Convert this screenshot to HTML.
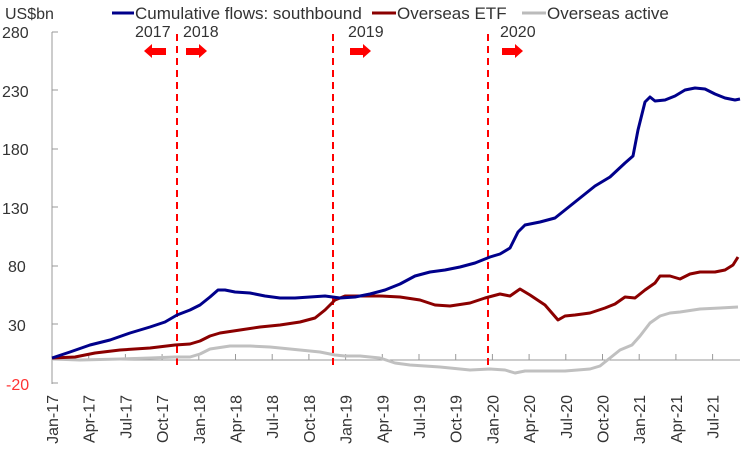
<!DOCTYPE html>
<html><head><meta charset="utf-8"><style>
body{margin:0;background:#fff;width:750px;height:458px;overflow:hidden}
svg text{font-family:"Liberation Sans",sans-serif;fill:#333}
</style></head><body>
<svg width="750" height="458" viewBox="0 0 750 458">
<g font-size="16">
<text x="5" y="19" font-size="16">US$bn</text>
<text x="2" y="38">280</text><text x="2" y="97">230</text><text x="2" y="155">180</text>
<text x="2" y="214">130</text><text x="8" y="272">80</text><text x="8" y="331">30</text>
<text x="6" y="390" style="fill:#f33">-20</text>
</g>
<g stroke="#999" stroke-width="1" fill="none">
<line x1="52" y1="32" x2="52" y2="384"/>
<line x1="52" y1="32" x2="58" y2="32"/><line x1="52" y1="90" x2="58" y2="90"/><line x1="52" y1="149" x2="58" y2="149"/>
<line x1="52" y1="207" x2="58" y2="207"/><line x1="52" y1="266" x2="58" y2="266"/><line x1="52" y1="324" x2="58" y2="324"/><line x1="52" y1="383" x2="58" y2="383"/>
<line x1="52" y1="360" x2="740" y2="360"/>
<line x1="88.7" y1="360" x2="88.7" y2="354"/><line x1="125.4" y1="360" x2="125.4" y2="354"/><line x1="162.1" y1="360" x2="162.1" y2="354"/>
<line x1="198.8" y1="360" x2="198.8" y2="354"/><line x1="235.5" y1="360" x2="235.5" y2="354"/><line x1="272.2" y1="360" x2="272.2" y2="354"/>
<line x1="308.9" y1="360" x2="308.9" y2="354"/><line x1="345.6" y1="360" x2="345.6" y2="354"/><line x1="382.3" y1="360" x2="382.3" y2="354"/>
<line x1="419" y1="360" x2="419" y2="354"/><line x1="455.7" y1="360" x2="455.7" y2="354"/><line x1="492.4" y1="360" x2="492.4" y2="354"/>
<line x1="529.1" y1="360" x2="529.1" y2="354"/><line x1="565.8" y1="360" x2="565.8" y2="354"/><line x1="602.5" y1="360" x2="602.5" y2="354"/>
<line x1="639.2" y1="360" x2="639.2" y2="354"/><line x1="675.9" y1="360" x2="675.9" y2="354"/><line x1="712.6" y1="360" x2="712.6" y2="354"/>
</g>
<g stroke="#f00" stroke-width="2" stroke-dasharray="7,5">
<line x1="177" y1="34" x2="177" y2="368"/><line x1="333" y1="34" x2="333" y2="368"/><line x1="488" y1="34" x2="488" y2="368"/>
</g>
<g font-size="16">
<text x="135" y="37">2017</text><text x="183" y="37">2018</text><text x="348" y="37">2019</text><text x="500" y="37">2020</text>
</g>
<g fill="#f00">
<polygon points="144,51 152,44 152,48 166,48 166,55 152,55 152,58"/>
<polygon points="207,51 199,44 199,48 186,48 186,55 199,55 199,58"/>
<polygon points="371,51 363,44 363,48 350,48 350,55 363,55 363,58"/>
<polygon points="523,51 515,44 515,48 502,48 502,55 515,55 515,58"/>
</g>
<g font-size="17">
<line x1="112" y1="13" x2="134" y2="13" stroke="#00008b" stroke-width="3"/><text x="135" y="19">Cumulative flows: southbound</text>
<line x1="372" y1="13" x2="396" y2="13" stroke="#8b0000" stroke-width="3"/><text x="397" y="19">Overseas ETF</text>
<line x1="522" y1="13" x2="546" y2="13" stroke="#bbb" stroke-width="3"/><text x="547" y="19">Overseas active</text>
</g>
<g fill="none" stroke-width="3" stroke-linejoin="round">
<polyline stroke="#c0c0c0" points="52,359 80,360 120,359 150,358 175,357 190,357 200,354 210,349 230,346 250,346 270,347 300,350 320,352 335,355 345,356 360,356 380,358 395,363 410,365 440,367 470,370 490,369 505,370 515,373 525,371 545,371 565,371 590,369 600,366 610,358 620,350 632,345 640,336 650,323 660,316 670,313 680,312 700,309 720,308 738,307"/>
<polyline stroke="#8b0000" points="52,358 75,357 95,353 120,350 150,348 175,345 190,344 200,341 210,336 220,333 240,330 260,327 280,325 300,322 315,318 325,310 335,300 345,296 360,296 380,296 400,297 420,300 435,305 450,306 470,303 485,298 500,294 510,296 520,289 530,295 545,305 558,320 565,316 575,315 590,313 605,308 615,304 625,297 635,298 645,290 655,283 660,276 670,276 680,279 690,274 700,272 715,272 725,270 733,265 738,257"/>
<polyline stroke="#00008b" points="52,358 70,352 90,345 110,340 130,333 150,327 165,322 177,315 190,310 200,305 210,297 218,290 225,290 235,292 250,293 265,296 280,298 295,298 310,297 325,296 340,298 355,297 370,294 385,290 400,284 415,276 430,272 445,270 460,267 475,263 490,257 500,254 510,248 518,232 525,225 540,222 555,218 565,210 580,198 595,186 610,177 625,163 633,156 638,130 645,102 650,97 655,101 665,100 675,96 685,90 695,88 705,89 715,94 725,98 735,100 740,99"/>
</g>
<g font-size="16" text-anchor="end">
<text transform="translate(58,395) rotate(-90)">Jan-17</text>
<text transform="translate(94.7,395) rotate(-90)">Apr-17</text>
<text transform="translate(131.4,395) rotate(-90)">Jul-17</text>
<text transform="translate(168.1,395) rotate(-90)">Oct-17</text>
<text transform="translate(204.8,395) rotate(-90)">Jan-18</text>
<text transform="translate(241.5,395) rotate(-90)">Apr-18</text>
<text transform="translate(278.2,395) rotate(-90)">Jul-18</text>
<text transform="translate(314.9,395) rotate(-90)">Oct-18</text>
<text transform="translate(351.6,395) rotate(-90)">Jan-19</text>
<text transform="translate(388.3,395) rotate(-90)">Apr-19</text>
<text transform="translate(425,395) rotate(-90)">Jul-19</text>
<text transform="translate(461.7,395) rotate(-90)">Oct-19</text>
<text transform="translate(498.4,395) rotate(-90)">Jan-20</text>
<text transform="translate(535.1,395) rotate(-90)">Apr-20</text>
<text transform="translate(571.8,395) rotate(-90)">Jul-20</text>
<text transform="translate(608.5,395) rotate(-90)">Oct-20</text>
<text transform="translate(645.2,395) rotate(-90)">Jan-21</text>
<text transform="translate(681.9,395) rotate(-90)">Apr-21</text>
<text transform="translate(718.6,395) rotate(-90)">Jul-21</text>
</g>
</svg>
</body></html>
